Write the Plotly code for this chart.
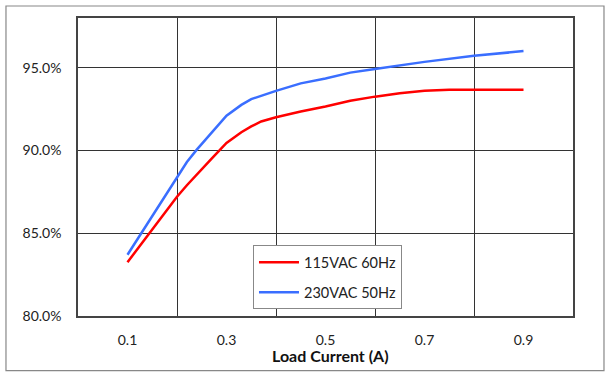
import plotly.graph_objects as go

load_115 = [0.1, 0.15, 0.2, 0.22, 0.25, 0.27, 0.3, 0.33, 0.35, 0.37, 0.4, 0.45, 0.5, 0.55, 0.6, 0.65, 0.7, 0.75, 0.8, 0.9]
eff_115 = [83.25, 85.2, 87.2, 87.9, 88.9, 89.5, 90.45, 91.1, 91.45, 91.75, 92.0, 92.35, 92.65, 93.0, 93.25, 93.45, 93.6, 93.66, 93.66, 93.66]

load_230 = [0.1, 0.15, 0.2, 0.22, 0.24, 0.27, 0.3, 0.33, 0.35, 0.4, 0.45, 0.5, 0.55, 0.6, 0.7, 0.8, 0.9]
eff_230 = [83.7, 86.0, 88.35, 89.3, 90.05, 91.05, 92.1, 92.75, 93.1, 93.6, 94.05, 94.35, 94.7, 94.92, 95.35, 95.72, 96.0]

x_ticks = [0.1, 0.3, 0.5, 0.7, 0.9]
x_tick_text = ["0.1", "0.3", "0.5", "0.7", "0.9"]
y_ticks = [80, 85, 90, 95]
y_tick_text = ["80.0%", "85.0%", "90.0%", "95.0%"]

FONT = "Lato"

fig = go.Figure()
fig.add_trace(go.Scatter(x=load_115, y=eff_115, mode="lines", name="115VAC 60Hz",
                         line=dict(color="#FF0000", width=2.5), legendgroup="a"))
fig.add_trace(go.Scatter(x=load_230, y=eff_230, mode="lines", name="230VAC 50Hz",
                         line=dict(color="#3A6EFF", width=2.5), legendgroup="b"))

fig.update_layout(
    width=611, height=376,
    margin=dict(l=78, r=38, t=18, b=60),
    paper_bgcolor="white", plot_bgcolor="white",
    font=dict(family=FONT, size=14, color="#222"),
    showlegend=True,
    legend=dict(x=0.3535, y=0.237, xanchor="left", yanchor="top",
                bordercolor="#888", borderwidth=1, bgcolor="white",
                font=dict(family=FONT, size=14.5, color="#222"),
                tracegroupgap=8, itemwidth=40),
    xaxis=dict(range=[0, 1], tickvals=x_ticks, ticktext=x_tick_text,
               showgrid=False, zeroline=False, ticks="", ticklabelstandoff=10,
               showline=True, linecolor="#444", linewidth=1.5, mirror=True,
               minor=dict(tick0=0, dtick=0.2, showgrid=True, gridcolor="#333", gridwidth=1)),
    yaxis=dict(range=[80, 98], tickvals=y_ticks, ticktext=y_tick_text,
               showgrid=True, gridcolor="#333", gridwidth=1, zeroline=False,
               ticks="", ticklabelstandoff=12,
               showline=True, linecolor="#444", linewidth=1.5, mirror=True),
    annotations=[dict(text="<b>Load Current (A)</b>", xref="paper", yref="paper",
                      x=0.511, y=-0.132, xanchor="center", yanchor="middle",
                      showarrow=False, font=dict(family=FONT, size=16, color="#111"))],
    shapes=[dict(type="rect", xref="paper", yref="paper",
                 x0=-0.1455, x1=1.0626, y0=-0.183, y1=1.0403,
                 line=dict(color="#888", width=1.2), fillcolor="rgba(0,0,0,0)", layer="below")],
)

fig.write_html("out.html", config={"displayModeBar": False},
               post_script="document.body.style.margin='0';")
